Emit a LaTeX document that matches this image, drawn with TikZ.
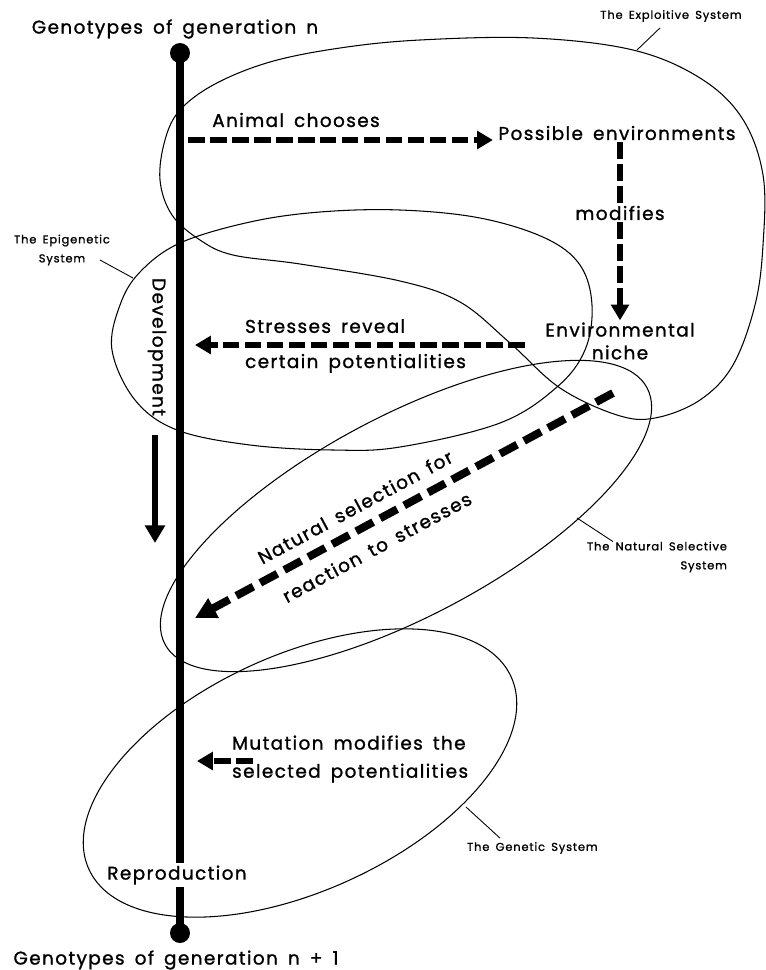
\documentclass[tikz,border=0pt]{standalone}
\usepackage{fontspec}
\setmainfont{Poppins}[WordSpace=1.6, LetterSpace=7.5, FakeBold=1.2]
\usetikzlibrary{arrows.meta, positioning, calc}

\begin{document}
\begin{tikzpicture}[x=0.02cm, y=-0.02cm,
  every node/.style={font=\fontsize{10.5}{13}\selectfont, inner sep=1pt},
  small/.style={font=\fontsize{6.5}{10.8}\selectfont, align=center},
  dot/.style={circle, fill=black, inner sep=0pt, minimum size=0.4cm},
  trunk/.style={line width=4.5pt},
  sys/.style={line width=0.6pt},
  leader/.style={line width=0.5pt},
  dline/.style={line width=3.4pt, dash pattern=on 9.5pt off 3pt},
  darr/.style={dline, -{Triangle[length=9pt, width=10pt]}},
  bigdarr/.style={line width=4.5pt, dash pattern=on 11pt off 4.5pt,
    -{Triangle[length=12pt, width=12pt]}},
  arr/.style={line width=3pt, -{Triangle[length=10pt, width=11pt]}},
  ]
  \useasboundingbox (0,0) rectangle (766,970);

  % ---- the four systems ----
  % exploitive
  \draw[sys] plot[smooth cycle, tension=0.6] coordinates {
    (180,110) (215,84) (270,62) (340,48) (420,40) (533,38) (633,50)
    (700,78) (742,118) (763,175) (763,245) (755,305) (733,365) (700,400)
    (655,418) (617,415) (560,388) (510,343) (460,302) (400,281) (300,264)
    (233,255) (200,240) (172,215) (160,180) (165,140)};
  % epigenetic
  \draw[sys] plot[smooth cycle, tension=0.6] coordinates {
    (112,350) (120,305) (140,272) (180,243) (250,222) (320,212) (400,210)
    (480,218) (545,238) (580,265) (592,305) (585,350) (557,387) (500,423)
    (400,447) (333,450) (250,445) (177,430) (135,400)};
  % natural selective
  \draw[sys, rotate around={28:(406,516)}] (406,516) ellipse [x radius=273, y radius=100];
  % genetic
  \draw[sys, rotate around={24.5:(300,773)}] (300,773) ellipse [x radius=232, y radius=118];

  % ---- main line of generations ----
  \node[dot] (gtop) at (180,53) {};
  \node[dot] (gbot) at (180,933) {};
  \node (repro) at (177,875) {Reproduction};
  \draw[trunk] (gtop.center) -- (gtop |- repro.north);
  \draw[trunk] (gbot |- repro.south) -- (gbot.center);

  \node (gentop) at (175,29) {Genotypes of generation n};
  \node (genbot) at (176,960) {Genotypes of generation n + 1};

  % ---- exploitive ----
  \node (animal) at (296,120) {Animal chooses};
  \node (poss) at (617,133) {Possible environments};
  \node (mod) at (620,213) {modifies};
  \node[align=center] (env) at (620,341) {Environmental\\niche};
  \coordinate (chs) at (188,140);
  \draw[darr, shorten >=2pt] (chs) -- (chs -| poss.west);
  \draw[dline] (poss.south -| mod) -- (mod);
  \draw[darr] (mod) -- (env);

  % ---- epigenetic ----
  \node[rotate=-90] (devel) at (157,347) {Development};
  \coordinate (dvS) at (155,435);
  \coordinate (dvE) at (155,543);
  \draw[arr] (dvS) -- (dvE);
  \node[align=left, anchor=west] (stress) at (243,346)
    {Stresses reveal\\[7pt]certain potentialities};
  \coordinate (stS) at (525,345);
  \coordinate (stE) at (195,345);
  \draw[darr] (stS) -- (stE);

  % ---- natural selection ----
  \coordinate (nsS) at (613,393);
  \coordinate (nsE) at (195,618);
  \draw[bigdarr] (nsS) -- (nsE);
  \node[rotate=28.3, align=center] (nstext) at (366,527)
    {Natural selection for\\[13pt]reaction to stresses};

  % ---- genetic ----
  \node[align=left, anchor=west] (mut) at (230,759)
    {Mutation modifies the\\[3pt]selected potentialities};
  \coordinate (muS) at (253,761);
  \coordinate (muE) at (197,761);
  \draw[darr] (muS) -- (muE);

  % ---- system labels ----
  \node[small] (exlab) at (671,16) {The Exploitive System};
  \coordinate (exT) at (637,50);
  \draw[leader] ($(exlab.south)+(-11,4)$) -- (exT);

  \node[small] (epilab) at (62,250) {The Epigenetic\\System};
  \coordinate (epiT) at (133,278);
  \draw[leader] ($(epilab.east)+(-12,10)$) -- (epiT);

  \node[small, align=right] (natlab) at (657,557) {The Natural Selective\\System};
  \coordinate (natT) at (577,518);
  \draw[leader] (natT) -- ($(natlab.north)+(-44,2)$);

  \node[small, anchor=west] (genlab) at (465,848) {The Genetic System};
  \coordinate (genT) at (466,807);
  \draw[leader] (genT) -- ($(genlab.north west)+(35,-2)$);
\end{tikzpicture}
\end{document}
